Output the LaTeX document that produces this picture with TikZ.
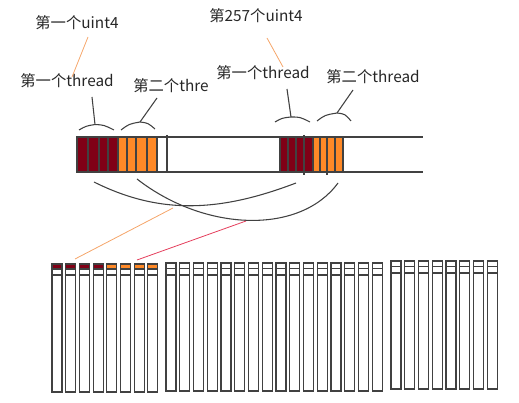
\documentclass[tikz,border=0pt]{standalone}
\usepackage{fontspec}
\setmainfont{Noto Sans CJK SC}
\usetikzlibrary{positioning}

\definecolor{cellred}{RGB}{128,0,22}
\definecolor{cellorange}{RGB}{255,137,39}
\definecolor{leadorange}{RGB}{245,165,105}
\definecolor{leadred}{RGB}{228,62,92}
\definecolor{ink}{RGB}{65,65,65}

\begin{document}
\begin{tikzpicture}[
  x=0.75pt, y=-0.75pt,
  lbl/.style={font=\fontsize{11.5}{13}\selectfont, inner sep=0pt, text=black!85},
  edge/.style={draw=ink, line width=0.8pt},
  lead/.style={line width=0.6pt},
  col/.style={draw=ink, line width=0.8pt, fill=white}
]
\useasboundingbox (0,0) rectangle (519,403);

% labels
\node[lbl] (uint1) at (77,23) {第一个uint4};
\node[lbl] (thr1) at (67,81) {第一个thread};
\begin{scope}
  \clip (120,70) rectangle (208,102);
  \node[lbl, anchor=west] (thr2) at (133,86) {第二个thread};
\end{scope}
\node[lbl] (uint257) at (256,16) {第257个uint4};
\node[lbl] (thr3) at (263,73) {第一个thread};
\node[lbl] (thr4) at (373,77) {第二个thread};

% leader ends
\coordinate (u1a) at (88,37);   \coordinate (u1b) at (72,77);
\coordinate (u2a) at (267,38);  \coordinate (u2b) at (283,67);
\coordinate (t1) at (92,97);    \coordinate (b1) at (95,124.5);
\coordinate (t2) at (157,98);   \coordinate (b2) at (140,122);
\coordinate (t3) at (287,89);   \coordinate (b3) at (291,117);
\coordinate (t4) at (353,90);   \coordinate (b4) at (337,113);

\draw[lead, leadorange] (u1a) -- (u1b);
\draw[lead, leadorange] (u2a) -- (u2b);

% braces
\draw[edge] (79,130) .. controls (86,126) .. (b1) .. controls (104,125) .. (114,130);
\draw[edge] (121,130) .. controls (129,124) .. (b2) .. controls (148,123) .. (155,129);
\draw[edge] (275,122) .. controls (282,118) .. (b3) .. controls (300,117) .. (310,122);
\draw[edge] (317,121) .. controls (325,115) .. (b4) .. controls (345,114) .. (351,121);
\draw[edge] (t1) -- (b1);
\draw[edge] (t2) -- (b2);
\draw[edge] (t3) -- (b3);
\draw[edge] (t4) -- (b4);

% long bar
\draw[edge] (77,137) -- (423,137) (77,172) -- (423,172);
\foreach \a/\b/\c in {77/88/cellred, 88/99/cellred, 99/108/cellred, 108/118/cellred,
  118/127/cellorange, 127/136/cellorange, 136/147/cellorange, 147/157/cellorange,
  280/288/cellred, 288/296/cellred, 296/304/cellred, 304/313/cellred,
  313/320/cellorange, 320/327/cellorange, 327/335/cellorange, 335/343/cellorange}
  \draw[edge, fill=\c] (\a,137) rectangle (\b,172);
\draw[edge] (167,135) -- (167,172);
\draw[edge] (304,135) -- (304,175);
\draw[edge] (327,172) -- (327,175);

% crossing curves
\coordinate (c1) at (173,208);
\coordinate (c2) at (246,221);
\draw[edge] (94,182) .. controls (160,215) and (220,212) .. (296,183);
\draw[edge] (137,179) .. controls (205,232) and (300,235) .. (338,183);

% columns
\foreach \tc [count=\i from 0] in {cellred,cellred,cellred,cellred,
  cellorange,cellorange,cellorange,cellorange}{
  \pgfmathsetmacro{\xl}{52+13.7*\i}
  \draw[col] (\xl,264) rectangle ++(10,128);
  \draw[col, fill=\tc] (\xl,264) rectangle ++(10,5);
  \draw[edge] (\xl,275) -- ++(10,0);
}
\foreach \gx/\n/\gt in {166/15/263, 391/7/261}{
  \foreach \i in {0,...,\n}{
    \pgfmathsetmacro{\xl}{\gx+13.75*\i}
    \draw[col] (\xl,\gt) rectangle ++(10,128);
    \draw[edge] (\xl,\gt+5.5) -- ++(10,0);
    \draw[edge] (\xl,\gt+12) -- ++(10,0);
  }
}
\coordinate (k1) at (75,259);
\coordinate (k2) at (137,260);

\draw[lead, leadorange] (c1) -- (k1);
\draw[lead, leadred] (c2) -- (k2);
\end{tikzpicture}
\end{document}
